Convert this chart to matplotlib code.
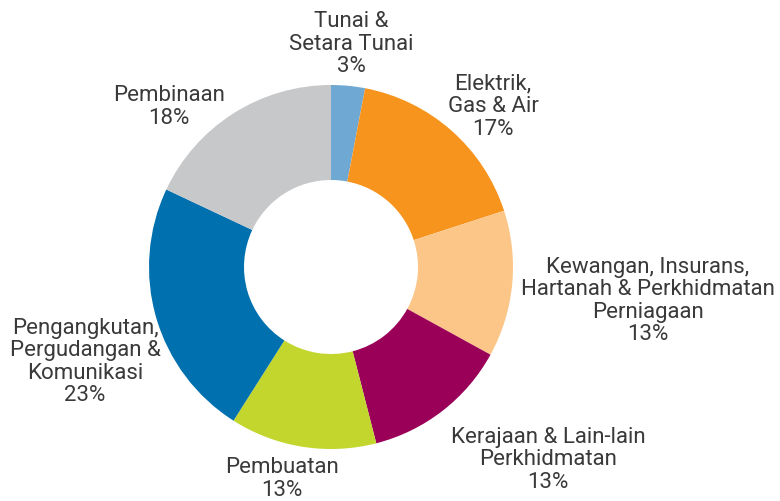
import matplotlib
matplotlib.use("Agg")
from matplotlib import pyplot as plt

labels = ["Tunai &\nSetara Tunai", "Elektrik,\nGas & Air",
          "Kewangan, Insurans,\nHartanah & Perkhidmatan\nPerniagaan",
          "Kerajaan & Lain-lain\nPerkhidmatan", "Pembuatan",
          "Pengangkutan,\nPergudangan &\nKomunikasi", "Pembinaan"]
shares = [3, 17, 13, 13, 13, 23, 18]
colors = ["#6fa8d3", "#f7941d", "#fdc689", "#9b0058", "#c2d62e", "#0070ae", "#c7c8ca"]
# label centres in pixel coordinates (x, y from top)
label_pos = [(351, 44), (493, 107), (648, 301), (548, 460), (282, 479), (85, 362), (169, 107)]

W, H = 780, 502
fig = plt.figure(figsize=(W / 100, H / 100), dpi=100)
ax = fig.add_axes([0, 0, 1, 1])

ax.pie(shares, colors=colors, startangle=90, counterclock=False,
       center=(331, H - 268), radius=182, frame=True,
       wedgeprops=dict(width=95, linewidth=0))
ax.set_xlim(0, W)
ax.set_ylim(0, H)
ax.set_aspect("equal")
ax.axis("off")

for lab, s, (x, y) in zip(labels, shares, label_pos):
    ax.text(x, H - y, f"{lab}\n{s}%", ha="center", va="center",
            fontsize=16, color="#3a3a3a", family="Roboto",
            linespacing=1.1)

fig.savefig("out.png", dpi=100)
